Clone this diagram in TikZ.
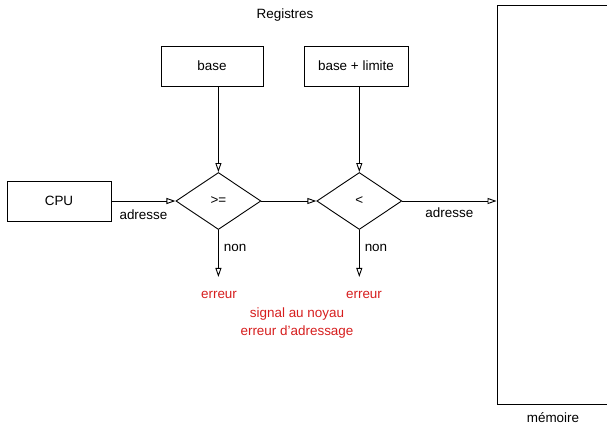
\documentclass[tikz,border=0pt]{standalone}
\usepackage{fontspec}
\setmainfont{Liberation Sans}
\usetikzlibrary{arrows.meta,positioning,shapes.geometric}
\definecolor{errred}{RGB}{214,30,30}
\tikzset{
  regbox/.style={draw=black, line width=0.9bp, minimum width=102bp, minimum height=40bp, inner sep=0pt, align=center},
  test/.style={draw=black, line width=0.9bp, diamond, aspect=1.5, minimum width=85bp, minimum height=57bp, inner sep=0pt},
  link/.style={-{Triangle[open,length=9bp,width=6bp]}, line width=0.9bp, draw=black},
  lbl/.style={inner sep=1bp, font=\fontsize{13.5}{18}\selectfont},
  errlbl/.style={lbl, text=errred, align=center}
}

\begin{document}
\begin{tikzpicture}[x=1bp, y=-1bp, font=\fontsize{13.5}{18}\selectfont]
  \useasboundingbox (0,0) rectangle (607,426);

  \node[regbox, minimum width=104bp] (cpu) at (59,201) {CPU};
  \node[test, right=64bp of cpu] (tbase) {>=};
  \node[test, right=55bp of tbase] (tlim) {<};

  \node[regbox] (base) at (212,66) {base};
  \node[regbox, minimum width=104bp] (limit) at (356,66) {base + limite};
  \node[lbl] (regs) at (285,15) {Registres};

  % memoire, bord droit hors cadre
  \node[draw=black, line width=0.9bp, minimum width=116bp, minimum height=399bp, inner sep=0pt] (mem) at (555,204.5) {};
  \node[lbl, below=7bp of mem.south, xshift=-2bp] (memlbl) {mémoire};

  \coordinate[below=47bp of tbase.south] (err1);
  \coordinate[below=47bp of tlim.south] (err2);

  \draw[link] (cpu) -- node[lbl, below=7bp] {adresse} (tbase);
  \draw[link] (tbase) -- (tlim);
  \draw[link] (tlim) -- node[lbl, below=5bp] {adresse} (tlim -| mem.west);
  \draw[link] (tbase.north |- base.south) -- (tbase.north);
  \draw[link] (tlim.north |- limit.south) -- (tlim.north);
  \draw[link] (tbase.south) -- node[lbl, right=4bp, pos=0.38] {non} (err1);
  \draw[link] (tlim.south) -- node[lbl, right=4bp, pos=0.38] {non} (err2);

  \node[errlbl] (e1) at (219,295) {erreur};
  \node[errlbl] (e2) at (364,295) {erreur};
  \node[errlbl] (sig) at (297,323) {signal au noyau\\erreur d’adressage};
\end{tikzpicture}
\end{document}
